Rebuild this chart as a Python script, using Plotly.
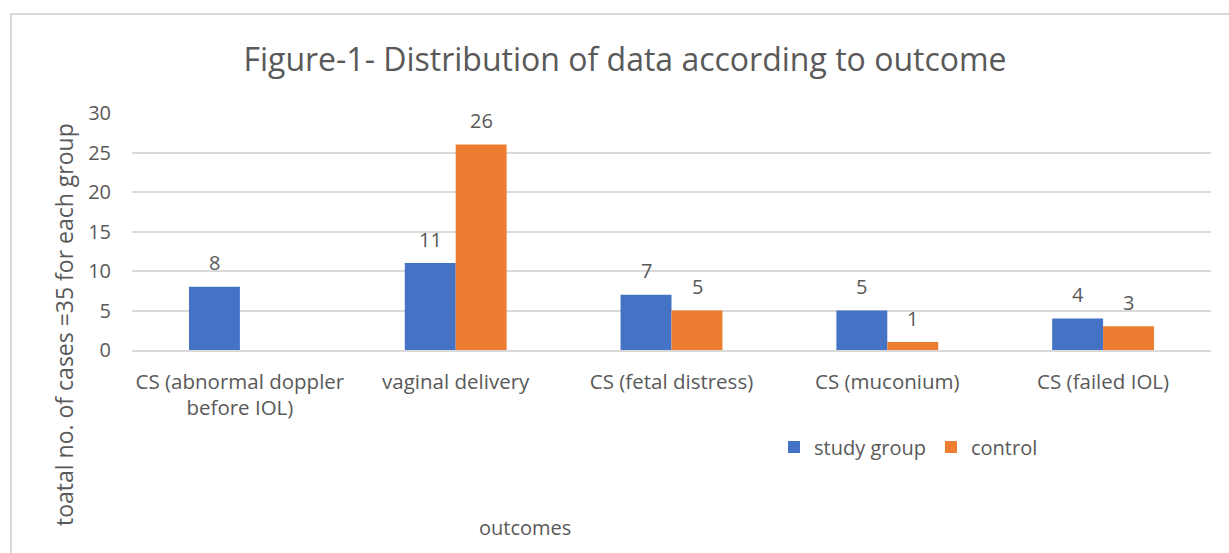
import plotly.graph_objects as go

categories = ["CS (abnormal doppler<br>before IOL)", "vaginal delivery", "CS (fetal distress)",
              "CS (muconium)", "CS (failed IOL)"]
study_group = [8, 11, 7, 5, 4]
control = [0, 26, 5, 1, 3]
series_names = ["study group", "control"]
y_ticks = [0, 5, 10, 15, 20, 25, 30]

W, H = 1229, 553
L, R, T, B = 132, 18, 113, 203
FONT = "Open Sans"
GRAY = "#595959"
BLUE = "#4472C4"
ORANGE = "#ED7D31"

fig = go.Figure()
for name, vals, col in [(series_names[0], study_group, BLUE), (series_names[1], control, ORANGE)]:
    fig.add_trace(go.Bar(name=name, x=categories, y=vals, marker=dict(color=col, line=dict(width=0))))

# data labels (skip zeros)
for vals, off in [(study_group, -0.5), (control, 0.5)]:
    for i, v in enumerate(vals):
        if v:
            fig.add_annotation(x=i, y=v, xref="x", yref="y", text=str(v), showarrow=False,
                               xshift=off * 51, yshift=24, yanchor="middle",
                               font=dict(family=FONT, size=20, color=GRAY))

pw = W - L - R
ph = H - T - B
def px_x(p):
    return (p - L) / pw
def px_y(p):
    return (H - B - p) / ph

fig.add_annotation(text="toatal no. of cases =35 for each group", textangle=-90, showarrow=False,
                   xref="paper", yref="paper", x=px_x(64), y=px_y(325), xanchor="center", yanchor="middle",
                   font=dict(family=FONT, size=23, color=GRAY))
fig.add_annotation(text="outcomes", showarrow=False, xref="paper", yref="paper",
                   x=px_x(525), y=px_y(527), xanchor="center", yanchor="middle",
                   font=dict(family=FONT, size=20, color=GRAY))

fig.add_shape(type="rect", xref="paper", yref="paper", x0=px_x(11), y0=-2, x1=1.2, y1=px_y(14),
              line=dict(color="#D9D9D9", width=2), fillcolor="rgba(0,0,0,0)", layer="below")

fig.update_layout(
    width=W, height=H,
    margin=dict(l=L, r=R, t=T, b=B),
    paper_bgcolor="white", plot_bgcolor="white",
    barmode="group", bargap=0.528, bargroupgap=0,
    title=dict(text="Figure-1- Distribution of data according to outcome", x=625 / W, xanchor="center",
               y=1 - 60 / H, yanchor="middle", font=dict(family=FONT, size=32, color=GRAY)),
    font=dict(family=FONT, color=GRAY),
    legend=dict(orientation="h", x=px_x(774), y=px_y(447), xanchor="left", yanchor="middle",
                font=dict(family=FONT, size=20, color=GRAY), itemwidth=30, tracegroupgap=0,
                bgcolor="rgba(0,0,0,0)"),
    showlegend=True,
)
fig.update_xaxes(showgrid=False, showline=True, linecolor="#D9D9D9", linewidth=2, ticks="",
                 tickfont=dict(family=FONT, size=20.5, color=GRAY), ticklabelstandoff=12)
fig.update_yaxes(range=[0, 30], tickvals=y_ticks, showgrid=True, gridcolor="#D9D9D9", gridwidth=2,
                 zeroline=False, showline=False, ticks="",
                 tickfont=dict(family=FONT, size=20, color=GRAY), ticklabelstandoff=20)

fig.write_html("out.html", config={"displayModeBar": False},
               post_script="document.body.style.margin='0px';")
